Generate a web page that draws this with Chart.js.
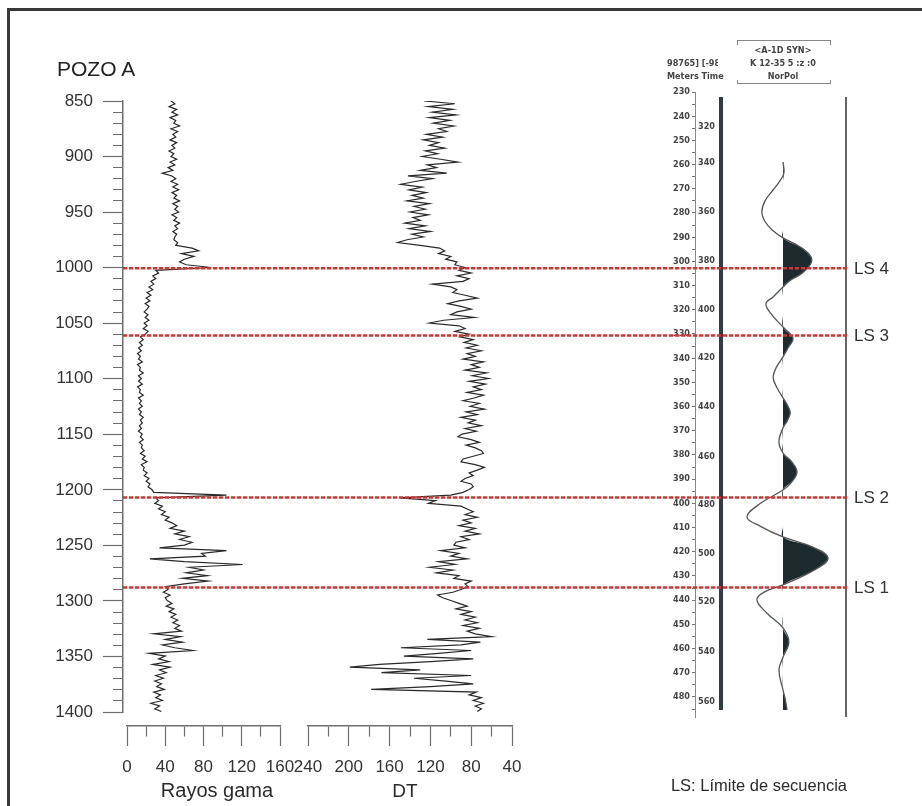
<!DOCTYPE html>
<html>
<head>
<meta charset="utf-8">
<title>Pozo A</title>
<script src="https://cdn.jsdelivr.net/npm/chart.js@4.4.1/dist/chart.umd.min.js"></script>
<style>
  html, body { margin: 0; padding: 0; background: #fff; }
  body { width: 922px; height: 806px; overflow: hidden; position: relative;
         font-family: "Liberation Sans", Arial, sans-serif; color: #2b2b2b; }
  .layer { position: absolute; left: 0; top: 0; }
  .frame { position: absolute; left: 7px; top: 8px; width: 960px; height: 850px;
           border-left: 3px solid #383838; border-top: 3px solid #383838; }
  .txt { position: absolute; line-height: 1; white-space: nowrap; }
  .small { font-family: "Liberation Sans Narrow", "DejaVu Sans Condensed", "Liberation Sans", sans-serif;
           font-size: 9px; font-weight: bold; color: #444; }
  .bar { position: absolute; }
</style>
</head>
<body>
<div class="frame"></div>

<canvas id="grChart" class="layer" width="922" height="806"></canvas>
<canvas id="dtChart" class="layer" width="922" height="806"></canvas>
<canvas id="seisChart" class="layer" width="922" height="806"></canvas>

<!-- synthetic panel frame -->
<div class="bar" style="left:719px; top:97px; width:4px; height:613px; background:#2f3e43;"></div>
<div class="bar" style="left:845px; top:97px; width:2px; height:620px; background:#666;"></div>
<div class="bar" style="left:737px; top:40px; width:92px; height:4px; border:1px solid #888; border-bottom:none;"></div>
<div class="bar" style="left:737px; top:80px; width:92px; height:3px; border:1px solid #888; border-top:none;"></div>

<canvas id="depthChart" class="layer" width="922" height="806"></canvas>

<div class="txt" style="left:57px; top:58px; font-size:21px; color:#222;">POZO A</div>
<div class="txt" style="left:137px; top:780px; width:160px; text-align:center; font-size:20px;">Rayos gama</div>
<div class="txt" style="left:355px; top:781px; width:100px; text-align:center; font-size:19px;">DT</div>
<div class="txt" style="right:75px; top:777px; font-size:16.5px;">LS: Límite de secuencia</div>

<div class="txt small" style="left:733px; top:46px; width:100px; text-align:center;">&lt;A-1D SYN&gt;</div>
<div class="txt small" style="left:733px; top:59px; width:100px; text-align:center;">K 12-35 5 :z :0</div>
<div class="txt small" style="left:733px; top:72px; width:100px; text-align:center;">NorPol</div>
<div class="txt small" style="left:667px; top:59px; width:51px; overflow:hidden;">98765] [-987(</div>
<div class="txt small" style="left:667px; top:72px;">Meters Time</div>

<script>
// well log, sampled every 2.5 m from 850 m
const depthTop = 850;
const depthBottom = 1400;
const sampleStep = 2.5;

// gamma ray (API), one row = 50 m
const gammaRay = [
  46, 50, 44, 52, 47, 53, 45, 51, 49, 55, 46, 53, 48, 51, 45, 52, 47, 50, 44, 49,
  46, 52, 45, 50, 43, 48, 37, 47, 51, 46, 53, 48, 54, 47, 52, 49, 55, 48, 53, 50,
  54, 47, 52, 49, 55, 50, 53, 48, 52, 50, 49, 53, 51, 68, 75, 57, 70, 60, 55, 62,
  88, 30, 33, 27, 30, 25, 28, 23, 27, 21, 25, 20, 24, 19, 23, 21, 18, 22, 19, 23,
  18, 21, 17, 22, 19, 14, 17, 13, 16, 12, 15, 11, 14, 12, 16, 11, 14, 13, 17, 12,
  15, 12, 16, 11, 14, 13, 17, 12, 15, 13, 16, 12, 15, 13, 17, 14, 16, 13, 15, 12,
  16, 14, 17, 13, 16, 15, 18, 14, 19, 16, 21, 15, 18, 17, 21, 18, 23, 20, 24, 22,
  26, 28, 104, 30, 33, 29, 37, 33, 40, 36, 44, 40, 47, 52, 45, 60, 50, 65, 55, 68,
  60, 34, 104, 78, 82, 24, 60, 121, 65, 80, 62, 84, 58, 85, 60, 40, 43, 38, 45, 40,
  42, 47, 41, 49, 44, 51, 46, 53, 48, 55, 50, 57, 28, 56, 40, 58, 37, 50, 69, 23,
  40, 33, 44, 27, 45, 34, 41, 30, 38, 29, 36, 31, 39, 28, 35, 30, 37, 25, 34, 29,
  36
];

// sonic DT (us/ft), same sampling
const dtSonic = [
  126, 96, 122, 98, 118, 95, 121, 101, 117, 97, 112, 104, 124, 108, 127, 112, 121, 106, 125, 113,
  128, 110, 93, 123, 114, 130, 104, 142, 118, 135, 149, 128, 141, 124, 138, 127, 143, 121, 136, 125,
  140, 122, 137, 130, 145, 125, 141, 120, 138, 127, 143, 152, 130, 111, 106, 112, 100, 105, 94, 96,
  86, 92, 80, 94, 82, 88, 118, 100, 94, 98, 86, 74, 92, 103, 90, 80, 94, 100, 77, 107,
  121, 92, 86, 96, 82, 91, 78, 87, 74, 85, 70, 84, 76, 88, 68, 80, 72, 86, 65, 79,
  63, 82, 66, 78, 70, 84, 68, 77, 88, 72, 81, 67, 85, 74, 90, 76, 83, 70, 86, 75,
  89, 93, 80, 72, 85, 76, 70, 68, 78, 88, 90, 76, 67, 74, 82, 78, 86, 90, 80, 78,
  82, 88, 100, 150, 115, 122, 90, 84, 78, 86, 74, 88, 80, 92, 76, 86, 72, 90, 82, 95,
  97, 86, 110, 92, 100, 84, 112, 96, 121, 98, 114, 92, 97, 80, 86, 83, 90, 98, 113, 108,
  100, 92, 84, 95, 80, 90, 76, 86, 74, 88, 72, 84, 76, 60, 123, 71, 90, 149, 80, 112,
  146, 78, 120, 170, 199, 130, 168, 80, 136, 105, 78, 120, 178, 75, 82, 70, 78, 68, 76, 70,
  74
];

const depths = gammaRay.map((_, i) => depthTop + i * sampleStep);

// sequence boundaries
const seqNames = ['LS 4', 'LS 3', 'LS 2', 'LS 1'];
const seqDepths = [1000.5, 1061, 1207, 1288];

// synthetic trace: depth (m) and amplitude
const seisDepth = [258.9, 263.5, 267, 270.5, 275, 279.6, 283.5, 287, 290.3, 294.5, 299.4, 304.5, 308, 310.6,
  314.7, 317.5, 322, 327.1, 331.7, 335.5, 339.5, 343.5, 347.8, 352, 356.4, 359.5, 362.6, 365.7, 368.8,
  374.6, 379.2, 383, 387, 391, 394.5, 400, 405.6, 409.5, 413.9, 418, 422.6, 427.5, 433.7, 436.5, 439.9,
  445.5, 451.5, 457.3, 463.6, 468.9, 477.2, 481, 485.4];
const seisAmp = [0, 0.02, -0.08, -0.22, -0.4, -0.47, -0.4, -0.24, 0, 0.42, 0.64, 0.45, 0.15, 0,
  -0.22, -0.38, -0.25, 0, 0.22, 0.12, 0, -0.14, -0.22, -0.14, 0, 0.1, 0.16, 0.1, 0,
  -0.09, 0, 0.2, 0.31, 0.2, 0, -0.5, -0.8, -0.5, 0, 0.65, 1.0, 0.7, 0, -0.4, -0.58,
  -0.35, 0, 0.13, 0, -0.09, 0, 0.05, 0.09];

// two-way time labels and the depth they sit at
const timeLabels = [320, 340, 360, 380, 400, 420, 440, 460, 480, 500, 520, 540, 560];
const timeDepths = [244.5, 259.3, 279.6, 299.8, 320.1, 339.9, 360.2, 380.8, 400.7, 420.9, 440.7, 461.4, 482.0];

Chart.defaults.font.family = '"Liberation Sans", Arial, sans-serif';
Chart.defaults.color = '#333';
Chart.defaults.animation = false;
Chart.defaults.events = [];
Chart.defaults.plugins.legend.display = false;
Chart.defaults.plugins.tooltip.enabled = false;

const axisGray = '#6e6e6e';
const depthGap = 13;  // bottom axes sit a little below 1400 m
const smallFont = { family: '"Liberation Sans Narrow", "DejaVu Sans Condensed", "Liberation Sans", sans-serif', size: 9, weight: 'bold' };

function logTrack(id, values, xMin, xMax, reverse, left, right) {
  new Chart(document.getElementById(id), {
    type: 'line',
    data: {
      datasets: [{
        data: depths.map((d, i) => ({ x: values[i], y: d })),
        borderColor: '#2a2a2a',
        borderWidth: 1.2,
        pointRadius: 0,
        tension: 0
      }]
    },
    options: {
      responsive: false,
      indexAxis: 'y',
      layout: { padding: { left: left, right: 922 - right, top: 101, bottom: 806 - 726 - 50 } },
      scales: {
        y: { type: 'linear', reverse: true, min: depthTop, max: depthBottom + depthGap, display: false },
        x: {
          type: 'linear', position: 'bottom', min: xMin, max: xMax, reverse: reverse,
          afterFit: s => { s.height = 50; },
          border: { display: true, color: axisGray, width: 1.5 },
          grid: {
            drawOnChartArea: false, tickLength: 20, tickColor: axisGray, tickWidth: 1.2,
            tickBorderDash: c => (c.tick && c.tick.value % 40 === 0) ? [] : [10, 20]
          },
          ticks: {
            stepSize: 20, autoSkip: false, maxRotation: 0, padding: 11,
            font: { size: 17 }, color: '#333',
            callback: v => v % 40 === 0 ? v : ''
          }
        }
      }
    }
  });
}

logTrack('grChart', gammaRay, 0, 160, false, 127, 280);
logTrack('dtChart', dtSonic, 40, 240, true, 308, 512);

// synthetic seismogram
new Chart(document.getElementById('seisChart'), {
  type: 'line',
  data: {
    datasets: [
      {
        data: seisDepth.map((m, i) => ({ x: seisAmp[i], y: m })),
        borderColor: '#555',
        borderWidth: 1.3,
        pointRadius: 0,
        tension: 0.4,
        fill: false
      },
      {
        data: seisDepth.map((m, i) => ({ x: Math.max(seisAmp[i], 0), y: m })),
        borderWidth: 0,
        pointRadius: 0,
        tension: 0.4,
        fill: { value: 0 },
        backgroundColor: '#1d2a2e'
      }
    ]
  },
  options: {
    responsive: false,
    indexAxis: 'y',
    layout: { padding: { left: 665, right: 76, top: 92, bottom: 89 } },
    scales: {
      x: { type: 'linear', min: -1.956, max: 1.4, display: false },
      y: {
        type: 'linear', reverse: true, min: 230, max: 488.3, weight: 1,
        afterFit: s => { s.width = 30; },
        border: { display: true, color: '#888', width: 1 },
        grid: { drawOnChartArea: false, tickLength: 3, tickColor: '#777' },
        ticks: {
          stepSize: 5, autoSkip: false, includeBounds: false, padding: 2, color: '#444',
          font: smallFont,
          callback: v => v % 10 === 0 ? v : ''
        }
      },
      yt: {
        axis: 'y', type: 'linear', position: 'left', reverse: true, min: 230, max: 488.3, weight: 0,
        afterFit: s => { s.width = 0; },
        afterBuildTicks: s => { s.ticks = timeDepths.map(v => ({ value: v })); },
        border: { display: false },
        grid: { display: false },
        ticks: {
          mirror: true, padding: 3, autoSkip: false, color: '#444',
          font: smallFont,
          callback: (v, i) => timeLabels[i]
        }
      }
    }
  }
});

// depth axis, sequence boundaries and their labels, on top of everything
const lsLabels = {
  id: 'lsLabels',
  afterDatasetsDraw(chart) {
    const { ctx, chartArea, scales: { y } } = chart;
    ctx.save();
    ctx.font = '17px "Liberation Sans", Arial, sans-serif';
    ctx.fillStyle = '#333';
    ctx.textBaseline = 'middle';
    seqDepths.forEach((d, i) => ctx.fillText(seqNames[i], chartArea.right + 7, y.getPixelForValue(d) + 1));
    ctx.restore();
  }
};

new Chart(document.getElementById('depthChart'), {
  type: 'line',
  data: {
    datasets: seqDepths.map((d, i) => ({
      label: seqNames[i],
      data: [{ x: 0, y: d }, { x: 1, y: d }],
      borderColor: '#e0302c',
      borderWidth: 2.5,
      borderDash: [4, 2],
      pointRadius: 0
    }))
  },
  options: {
    responsive: false,
    layout: { padding: { left: 13, right: 75, top: 101, bottom: 94 } },
    scales: {
      x: { type: 'linear', min: 0, max: 1, display: false },
      y: {
        type: 'linear', reverse: true, min: depthTop, max: depthBottom,
        afterFit: s => { s.width = 110; },
        border: { display: true, color: axisGray, width: 1.5 },
        grid: {
          drawOnChartArea: false, tickLength: 20, tickColor: axisGray, tickWidth: 1.2,
          tickBorderDash: c => (c.tick && c.tick.value % 50 === 0) ? [] : [0, 10, 10, 0]
        },
        ticks: {
          stepSize: 10, autoSkip: false, padding: 10, font: { size: 17 }, color: '#333',
          callback: v => v % 50 === 0 ? v : ''
        }
      }
    }
  },
  plugins: [lsLabels]
});
</script>
</body>
</html>
